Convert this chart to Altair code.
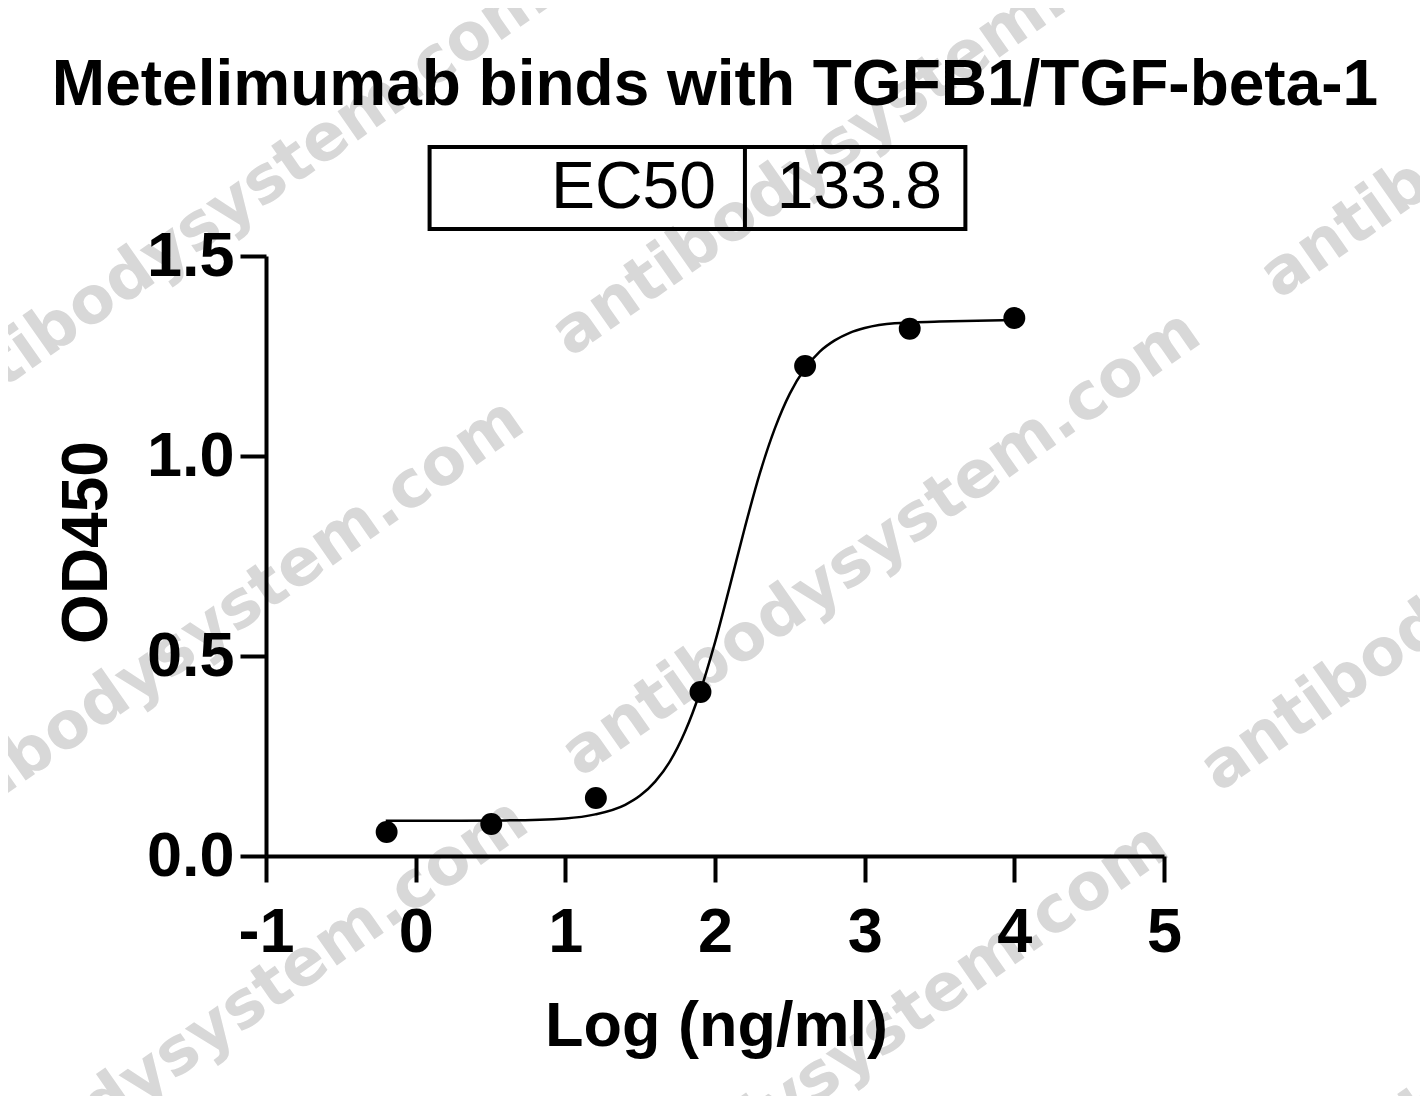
import altair as alt
import pandas as pd

# ---- data ----
log_conc = [-0.194, 0.505, 1.204, 1.903, 2.602, 3.301, 4.0]
od450 = [0.060, 0.080, 0.145, 0.410, 1.225, 1.318, 1.345]

# fitted curve
curve_x = [-0.2, 0.2, 0.6, 1.0, 1.2, 1.4, 1.5, 1.6, 1.7, 1.8, 1.9, 2.0, 2.1,
           2.2, 2.3, 2.4, 2.5, 2.6, 2.7, 2.8, 2.9, 3.0, 3.2, 3.5, 4.0]
curve_y = [0.088, 0.088, 0.089, 0.094, 0.104, 0.128, 0.151, 0.186, 0.237,
           0.311, 0.410, 0.534, 0.676, 0.822, 0.957, 1.069, 1.156, 1.218,
           1.261, 1.289, 1.308, 1.320, 1.332, 1.336, 1.340]

title_text = "Metelimumab binds with TGFB1/TGF-beta-1"
x_title = "Log (ng/ml)"
y_title = "OD450"
x_ticks = [-1, 0, 1, 2, 3, 4, 5]
y_ticks = [0.0, 0.5, 1.0, 1.5]

# title anchor, in data units (centred over the plot)
title_x = [2.0]
title_y = [1.8775]

ec50_label = "EC50"
ec50_value = "133.8"
# EC50 table box, in data units
box_x = [0.093]
box_x2 = [3.673]
box_y = [1.5675]
box_y2 = [1.7725]
box_div_x = [2.2]
label_x = [2.007]
value_x = [2.413]
text_y = [1.62]

# watermark anchors, in data units
wm_text = "antibodysystem.com"
wm_x = [-3.253, 1.033, 5.767, -3.42, 1.100, 5.367, -3.393, 0.887, 5.300]
wm_y = [1.0375, 1.245, 1.390, -0.025, 0.195, 0.1575, -1.025, -1.0875, -1.075]

FONT = "Liberation Sans"

xs = alt.Scale(domain=[-1, 5], nice=False, zero=False)
ys = alt.Scale(domain=[0, 1.5], nice=False, zero=False)

xaxis = alt.Axis(
    title=x_title, values=x_ticks, grid=False, zindex=1,
    labelExpr="toString(datum.value)",
    domainWidth=4, domainColor="black", tickWidth=4, tickColor="black",
    tickSize=26, labelFont=FONT, labelFontWeight="bold", labelFontSize=63,
    labelColor="black", labelPadding=19, labelFlush=False, labelOverlap=False,
    titleFont=FONT, titleFontWeight="bold", titleFontSize=63, titleColor="black",
    titleX=450, titleY=189, titleAlign="center", titleBaseline="alphabetic",
)
yaxis = alt.Axis(
    title=y_title, values=y_ticks, grid=False, format=".1f", zindex=1,
    domainWidth=4, domainColor="black", tickWidth=4, tickColor="black",
    tickSize=26, labelFont=FONT, labelFontWeight="bold", labelFontSize=63,
    labelColor="black", labelPadding=6, labelFlush=False, labelOverlap=False,
    labelBaseline="middle",
    titleFont=FONT, titleFontWeight="bold", titleFontSize=64, titleColor="black",
    titleAngle=270, titleX=-160, titleY=286, titleAlign="center",
    titleBaseline="alphabetic",
)

def X(field="x"):
    return alt.X(f"{field}:Q", scale=xs, axis=xaxis)

def Y(field="y"):
    return alt.Y(f"{field}:Q", scale=ys, axis=yaxis)

wm_df = pd.DataFrame({"x": wm_x, "y": wm_y, "t": [wm_text] * len(wm_x)})
watermark = alt.Chart(wm_df).mark_text(
    angle=325, align="left", baseline="alphabetic", font="DejaVu Sans",
    fontWeight="bold", fontSize=65, color="#d8d8d8",
).encode(x=X(), y=Y(), text="t:N")

title_df = pd.DataFrame({"x": title_x, "y": title_y, "t": [title_text]})
title = alt.Chart(title_df).mark_text(
    align="center", baseline="alphabetic", font=FONT, fontWeight="bold",
    fontSize=64, color="black",
).encode(x=X(), y=Y(), text="t:N")

curve_df = pd.DataFrame({"x": curve_x, "y": curve_y})
curve = alt.Chart(curve_df).mark_line(
    color="black", strokeWidth=2.5, interpolate="monotone"
).encode(x=X(), y=Y())

pts_df = pd.DataFrame({"x": log_conc, "y": od450})
points = alt.Chart(pts_df).mark_circle(
    size=480, color="black", opacity=1
).encode(x=X(), y=Y())

box_df = pd.DataFrame({"x": box_x, "x2": box_x2, "y": box_y, "y2": box_y2})
box = alt.Chart(box_df).mark_rect(
    fillOpacity=0, stroke="black", strokeWidth=4
).encode(x=X(), x2="x2:Q", y=Y(), y2="y2:Q")

div_df = pd.DataFrame({"x": box_div_x, "y": box_y, "y2": box_y2})
divider = alt.Chart(div_df).mark_rule(
    color="black", strokeWidth=4
).encode(x=X(), y=Y(), y2="y2:Q")

lab_df = pd.DataFrame({"x": label_x, "y": text_y, "t": [ec50_label]})
lab = alt.Chart(lab_df).mark_text(
    align="right", baseline="alphabetic", font=FONT, fontSize=66, color="black"
).encode(x=X(), y=Y(), text="t:N")

val_df = pd.DataFrame({"x": value_x, "y": text_y, "t": [ec50_value]})
val = alt.Chart(val_df).mark_text(
    align="left", baseline="alphabetic", font=FONT, fontSize=66, color="black"
).encode(x=X(), y=Y(), text="t:N")

chart = alt.layer(watermark, title, curve, points, box, divider, lab, val).properties(
    width=898, height=600,
    autosize=alt.AutoSizeParams(type="none"),
    padding={"left": 258, "top": 248, "right": 256, "bottom": 240},
    background="white",
).configure_view(stroke=None)

chart.save("out.html", embed_options={"renderer": "svg", "actions": False})
